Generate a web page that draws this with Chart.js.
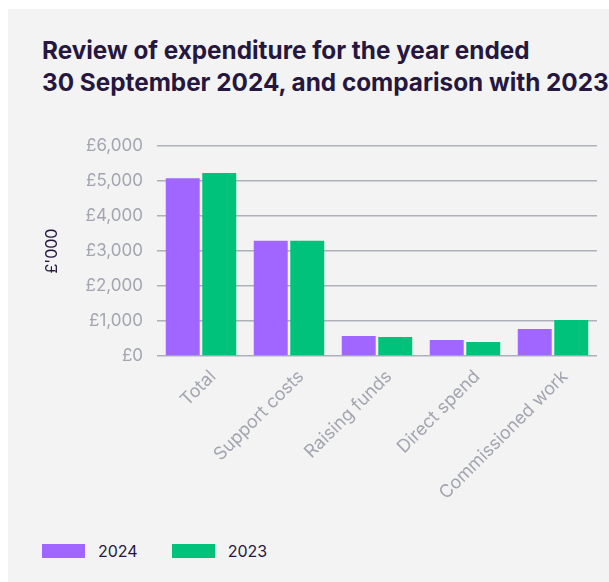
<!DOCTYPE html>
<html>
<head>
<meta charset="utf-8">
<script src="https://cdn.jsdelivr.net/npm/chart.js@4/dist/chart.umd.min.js"></script>
<style>
  html, body { margin: 0; padding: 0; background: #ffffff; }
  body { width: 609px; height: 582px; position: relative; overflow: hidden; font-family: Inter, "Noto Sans", sans-serif; }
  #panel { position: absolute; left: 8px; top: 9px; right: 0; bottom: 0; background: #f3f3f3; }
  #title { position: absolute; left: 42px; top: 34px; margin: 0; font-size: 24.3px; line-height: 32px; font-weight: 700; color: #26173f; letter-spacing: 0; white-space: nowrap; }
  #wrap { position: absolute; left: 8px; top: 120px; width: 601px; height: 400px; }
  #legend { position: absolute; left: 42px; top: 541px; display: flex; align-items: center; font-size: 16px; color: #26173f; }
  .item { display: flex; align-items: center; margin-right: 34px; }
  .swatch { width: 43px; height: 14px; margin-right: 13px; }
</style>
</head>
<body>
<div id="panel"></div>
<h1 id="title">Review of expenditure for the year ended<br>30 September 2024, and comparison with 2023</h1>
<div id="wrap"><canvas id="chart" width="601" height="400"></canvas></div>
<div id="legend"></div>
<script>
// Expenditure categories and values (£'000)
const categories = ["Total", "Support costs", "Raising funds", "Direct spend", "Commissioned work"];
const values2024 = [5080, 3290, 570, 460, 770];
const values2023 = [5230, 3290, 545, 400, 1030];
const yTicks = [0, 1000, 2000, 3000, 4000, 5000, 6000];

const seriesNames = ["2024", "2023"];
const seriesColors = ["#a066ff", "#00c27a"];

const axisGrey = "#a3a5b0";

const chart = new Chart(document.getElementById("chart"), {
  type: "bar",
  data: {
    labels: categories,
    datasets: [
      { label: seriesNames[0], data: values2024, backgroundColor: seriesColors[0] },
      { label: seriesNames[1], data: values2023, backgroundColor: seriesColors[1] }
    ]
  },
  options: {
    responsive: false,
    animation: false,
    devicePixelRatio: 1,
    categoryPercentage: 0.83,
    barPercentage: 0.93,
    layout: { padding: { top: 26, right: 12, left: 0, bottom: 0 } },
    plugins: { legend: { display: false }, tooltip: { enabled: false } },
    scales: {
      x: {
        grid: { display: false },
        border: { display: false },
        ticks: {
          color: axisGrey,
          font: { family: "Inter", size: 18 },
          maxRotation: 45, minRotation: 45,
          labelOffset: 12,
          padding: 2
        },
        afterFit(scale) { scale.height = 164; }
      },
      y: {
        min: 0, max: 6000,
        afterBuildTicks(scale) { scale.ticks = yTicks.map(v => ({ value: v })); },
        grid: { color: "#aeb0ba", lineWidth: 1.6, drawTicks: false },
        border: { display: false },
        ticks: {
          color: axisGrey,
          font: { family: "Inter", size: 17 },
          padding: 14,
          callback: v => "£" + v.toLocaleString("en-GB")
        },
        title: {
          display: true,
          text: "£'000",
          color: "#26173f",
          font: { family: "Inter", size: 16 },
          padding: { top: 35, bottom: 0 }
        },
        afterFit(scale) { scale.width = 149; }
      }
    }
  }
});

// Legend
const legend = document.getElementById("legend");
seriesNames.forEach((name, i) => {
  const item = document.createElement("div");
  item.className = "item";
  const sw = document.createElement("span");
  sw.className = "swatch";
  sw.style.background = seriesColors[i];
  const tx = document.createElement("span");
  tx.textContent = name;
  item.appendChild(sw);
  item.appendChild(tx);
  legend.appendChild(item);
});
</script>
</body>
</html>
